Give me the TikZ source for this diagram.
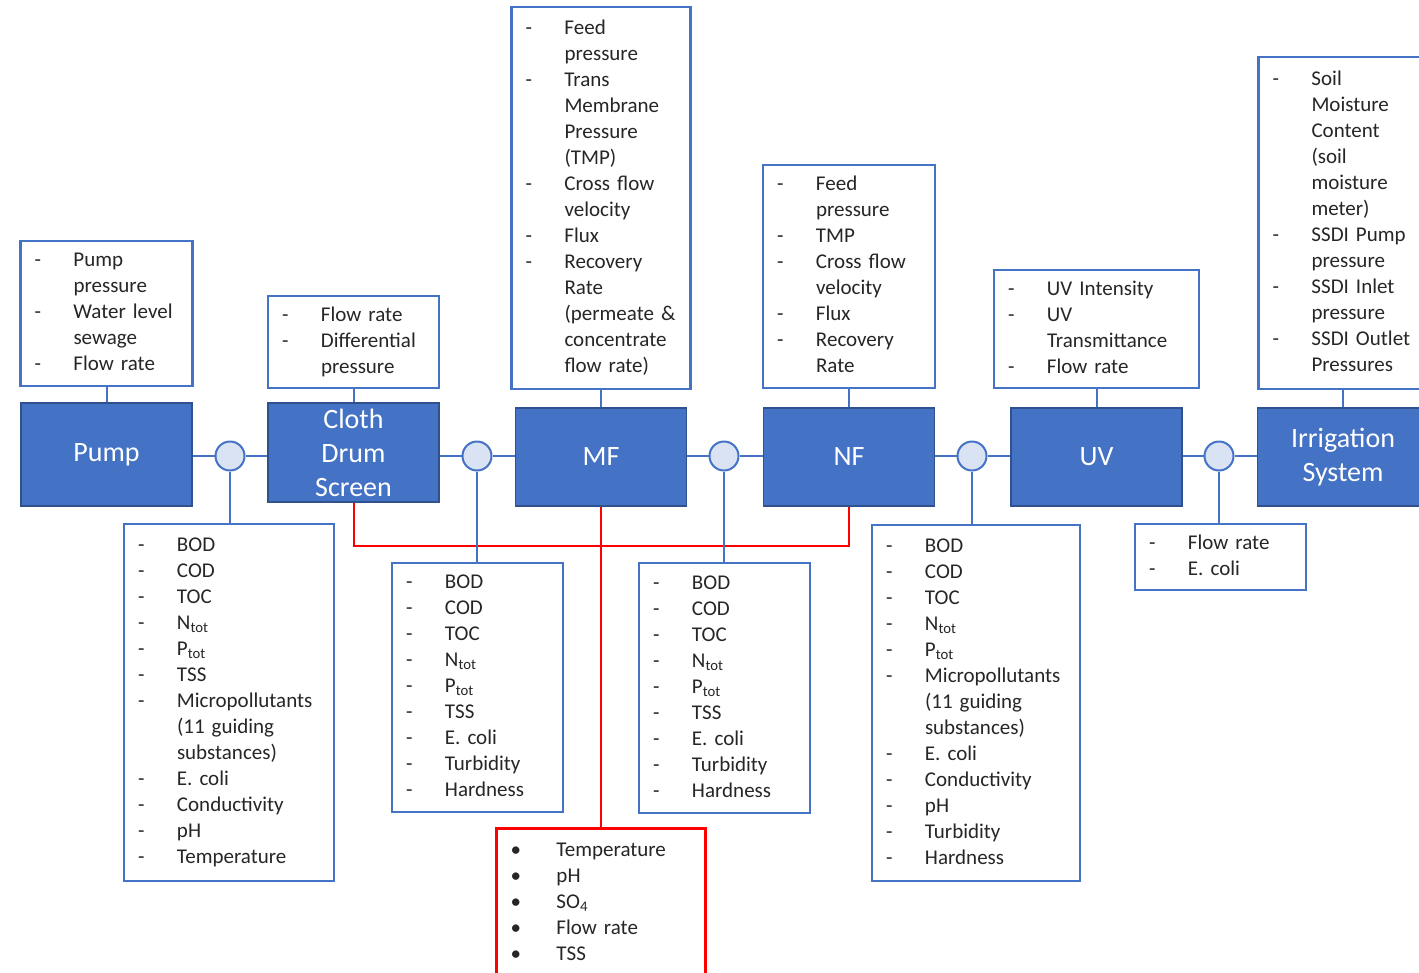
\documentclass[tikz,border=0pt]{standalone}
\usepackage{fontspec}
\setmainfont{Carlito}
\definecolor{blk}{HTML}{4472C4}
\definecolor{blkline}{HTML}{2F528F}
\definecolor{jct}{HTML}{DAE3F3}
\definecolor{txt}{HTML}{262626}
\newcommand\listfont{\fontsize{21}{26}\selectfont}
\newcommand\unitfont{\fontsize{28}{34}\selectfont}
\newcommand\itm[1]{\mbox{\makebox[39pt][l]{-}#1}\strut}
\newcommand\cnt[1]{\mbox{\hspace*{39pt}#1}\strut}
\newcommand\bul[1]{\mbox{\makebox[46pt][l]{\textbullet}#1}\strut}
\begin{document}
\begin{tikzpicture}[x=1pt,y=-1pt,
  unit/.style={draw=blkline,line width=1.5pt,fill=blk,text=white,font=\unitfont,align=center,minimum width=171pt,minimum height=98pt,inner sep=0pt},
  meas/.style={draw=blk,line width=2.5pt,fill=white,text=txt,font=\listfont,align=left,inner xsep=14pt,inner ysep=0pt},
  jn/.style={circle,draw=blk,fill=jct,line width=2pt,minimum size=29pt,inner sep=0pt},
  link/.style={draw=blk,line width=2pt},
  redlink/.style={draw=red,line width=2pt}]
\useasboundingbox (0,0) rectangle (1419,972);
\node[unit,minimum height=103pt] (pump) at (106.5,454.5) {Pump};
\node[unit,minimum height=99pt] (cds) at (353.5,452.5) {Cloth\\Drum\\Screen};
\node[unit] (mf) at (601,457) {MF};
\node[unit] (nf) at (849,457) {NF};
\node[unit] (uv) at (1096.5,457) {UV};
\node[unit] (irr) at (1343,457) {Irrigation\\System};
\node[jn] (j1) at (230,456) {};
\node[jn] (j2) at (477,456) {};
\node[jn] (j3) at (724,456) {};
\node[jn] (j4) at (972,456) {};
\node[jn] (j5) at (1219,456) {};
\node[meas,text width=144pt,minimum height=145pt] (ptop) at (106.5,313.5) {\itm{Pump}\\\cnt{pressure}\\\itm{Water level}\\\cnt{sewage}\\\itm{Flow rate}};
\node[meas,text width=143pt,minimum height=92pt] (ctop) at (353.5,342) {\itm{Flow rate}\\\itm{Differential}\\\cnt{pressure}};
\node[meas,text width=151pt,minimum height=382pt] (mtop) at (601,198) {\itm{Feed}\\\cnt{pressure}\\\itm{Trans}\\\cnt{Membrane}\\\cnt{Pressure}\\\cnt{(TMP)}\\\itm{Cross flow}\\\cnt{velocity}\\\itm{Flux}\\\itm{Recovery}\\\cnt{Rate}\\\cnt{(permeate \&}\\\cnt{concentrate}\\\cnt{flow rate)}};
\node[meas,text width=144pt,minimum height=223pt] (ntop) at (849,276.5) {\itm{Feed}\\\cnt{pressure}\\\itm{TMP}\\\itm{Cross flow}\\\cnt{velocity}\\\itm{Flux}\\\itm{Recovery}\\\cnt{Rate}};
\node[meas,text width=177pt,minimum height=118pt] (utop) at (1096.5,329) {\itm{UV Intensity}\\\itm{UV}\\\cnt{Transmittance}\\\itm{Flow rate}};
\node[meas,text width=141pt,minimum height=332pt] (itop) at (1343,223) {\itm{Soil}\\\cnt{Moisture}\\\cnt{Content}\\\cnt{(soil}\\\cnt{moisture}\\\cnt{meter)}\\\itm{SSDI Pump}\\\cnt{pressure}\\\itm{SSDI Inlet}\\\cnt{pressure}\\\itm{SSDI Outlet}\\\cnt{Pressures}};
\node[meas,text width=182pt,minimum height=357pt] (b1) at (229,702.5) {\itm{BOD}\\\itm{COD}\\\itm{TOC}\\\itm{N\textsubscript{tot}}\\\itm{P\textsubscript{tot}}\\\itm{TSS}\\\itm{Micropollutants}\\\cnt{(11 guiding}\\\cnt{substances)}\\\itm{E. coli}\\\itm{Conductivity}\\\itm{pH}\\\itm{Temperature}};
\node[meas,text width=143pt,minimum height=249pt] (b2) at (477.5,687.5) {\itm{BOD}\\\itm{COD}\\\itm{TOC}\\\itm{N\textsubscript{tot}}\\\itm{P\textsubscript{tot}}\\\itm{TSS}\\\itm{E. coli}\\\itm{Turbidity}\\\itm{Hardness}};
\node[meas,text width=143pt,minimum height=250pt] (b3) at (724.5,688) {\itm{BOD}\\\itm{COD}\\\itm{TOC}\\\itm{N\textsubscript{tot}}\\\itm{P\textsubscript{tot}}\\\itm{TSS}\\\itm{E. coli}\\\itm{Turbidity}\\\itm{Hardness}};
\node[meas,text width=180pt,minimum height=356pt] (b4) at (976,703) {\itm{BOD}\\\itm{COD}\\\itm{TOC}\\\itm{N\textsubscript{tot}}\\\itm{P\textsubscript{tot}}\\\itm{Micropollutants}\\\cnt{(11 guiding}\\\cnt{substances)}\\\itm{E. coli}\\\itm{Conductivity}\\\itm{pH}\\\itm{Turbidity}\\\itm{Hardness}};
\node[meas,text width=143pt,minimum height=66pt] (b5) at (1220.5,557) {\itm{Flow rate}\\\itm{E. coli}};
\node[meas,draw=red,text width=181pt,inner ysep=10pt,anchor=north] (lab) at (601,827) {\bul{Temperature}\\\bul{pH}\\\bul{SO\textsubscript{4}}\\\bul{Flow rate}\\\bul{TSS}};
\coordinate (rj) at (601,546);
\draw[redlink] (cds.south) |- (rj) -| (nf.south);
\draw[redlink] (mf.south) -- (lab.north);
\draw[link] (ptop) -- (pump);
\draw[link] (ctop) -- (cds);
\draw[link] (mtop) -- (mf);
\draw[link] (ntop) -- (nf);
\draw[link] (utop) -- (uv);
\draw[link] (itop) -- (irr);
\draw[link] (pump.east |- j1) -- (j1) -- (cds.west |- j1);
\draw[link] (cds.east |- j2) -- (j2) -- (mf.west |- j2);
\draw[link] (mf.east |- j3) -- (j3) -- (nf.west |- j3);
\draw[link] (nf.east |- j4) -- (j4) -- (uv.west |- j4);
\draw[link] (uv.east |- j5) -- (j5) -- (irr.west |- j5);
\draw[link] (j1) -- (j1 |- b1.north);
\draw[link] (j2) -- (j2 |- b2.north);
\draw[link] (j3) -- (j3 |- b3.north);
\draw[link] (j4) -- (j4 |- b4.north);
\draw[link] (j5) -- (j5 |- b5.north);
\end{tikzpicture}
\end{document}
